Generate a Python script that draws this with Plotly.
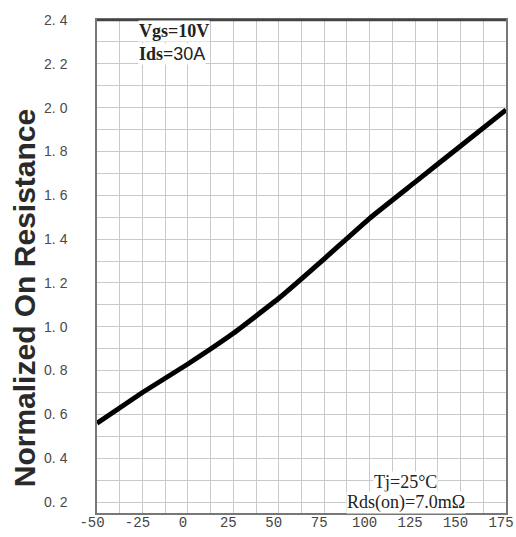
import plotly.graph_objects as go

# Data
temp_c = [-50, -25, 0, 25, 50, 75, 100, 125, 150, 175]
norm_rdson = [0.56, 0.70, 0.83, 0.97, 1.13, 1.31, 1.495, 1.66, 1.825, 1.99]

x_ticks = [-50, -25, 0, 25, 50, 75, 100, 125, 150, 175]
x_ticktext = ["-50", "-25", "0", "25", "50", "75", "100", "125", "150", "175"]
y_ticks = [0.2, 0.4, 0.6, 0.8, 1.0, 1.2, 1.4, 1.6, 1.8, 2.0, 2.2, 2.4]
y_ticktext = ["0. 2", "0. 4", "0. 6", "0. 8", "1. 0", "1. 2", "1. 4", "1. 6", "1. 8", "2. 0", "2. 2", "2. 4"]

SERIF = "Liberation Serif, Times New Roman, serif"
SANS = "Liberation Sans, Arial, sans-serif"
MONO = "Liberation Mono, DejaVu Sans Mono, monospace"

fig = go.Figure()
fig.add_trace(go.Scatter(
    x=temp_c, y=norm_rdson, mode="lines",
    line=dict(color="#000000", width=5, shape="spline", smoothing=0.3),
    hoverinfo="skip", showlegend=False,
))

grid_col = "#c9c9c9"
fig.update_xaxes(
    range=[-50, 175], tickvals=x_ticks, ticktext=x_ticktext,
    showgrid=True, gridcolor=grid_col, gridwidth=1,
    minor=dict(dtick=12.5, tick0=-50, showgrid=True, gridcolor=grid_col, gridwidth=1),
    showline=True, linecolor="#777777", linewidth=1.5, mirror=True,
    ticks="", ticklen=0, zeroline=False, automargin=False,
    ticklabelstandoff=-5, ticklabelshift=-5, ticklabeloverflow="allow",
    tickfont=dict(family=MONO, size=14, color="#444444"),
)
fig.update_yaxes(
    range=[0.15, 2.4], tickvals=y_ticks, ticktext=y_ticktext,
    showgrid=True, gridcolor=grid_col, gridwidth=1,
    minor=dict(dtick=0.1, tick0=0, showgrid=True, gridcolor=grid_col, gridwidth=1),
    showline=True, linecolor="#777777", linewidth=1.5, mirror=True,
    ticks="", ticklen=0, zeroline=False, automargin=False,
    ticklabelstandoff=25,
    tickfont=dict(family=SANS, size=14, color="#4a4a4a"),
)

# darker top border
fig.add_shape(type="line", xref="paper", yref="paper", x0=0, x1=1, y0=1, y1=1,
              line=dict(color="#444444", width=2.5))

# y-axis title (positioned as in the reference, slightly below centre)
fig.add_annotation(
    xref="paper", yref="paper", x=-0.178, y=0.436, xanchor="center", yanchor="middle",
    showarrow=False, textangle=-90,
    text="<b>Normalized On Resistance</b>",
    font=dict(family=SANS, size=30, color="#2a2a2a"),
)

def note(text, x, y, size, xanchor):
    fig.add_annotation(
        xref="paper", yref="paper", x=x, y=y, xanchor=xanchor, yanchor="middle",
        showarrow=False, text=text, bgcolor="white", borderpad=0,
        font=dict(family=SERIF, size=size, color="#222222"),
    )

note("<b>Vgs=10V</b>", 0.1, 0.978, 18, "left")
note("<b>Ids=</b><span style='font-family:Liberation Sans, Arial, sans-serif'>30A</span>",
     0.1, 0.931, 18, "left")
note("Tj=25°C", 0.755, 0.063, 18, "center")
note("Rds(on)=7.0mΩ", 0.755, 0.022, 18, "center")

fig.update_layout(
    width=516, height=537,
    margin=dict(l=97, r=10, t=20, b=24),
    paper_bgcolor="white", plot_bgcolor="white",
)

fig.write_html("out.html")
